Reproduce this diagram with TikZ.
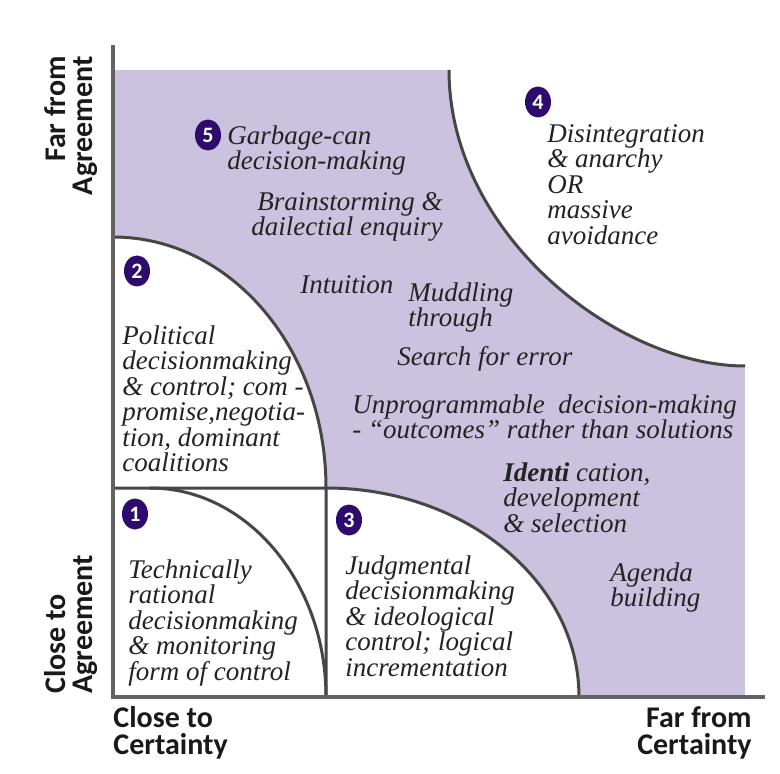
\documentclass[tikz,border=0pt]{standalone}
\usepackage{fontspec}
\setmainfont{Liberation Serif}
\newfontfamily\axisfont{Carlito}
\usepackage{tikz}
\usetikzlibrary{shapes.geometric}

\definecolor{lilac}{RGB}{203,194,223}
\definecolor{badgeblue}{RGB}{45,12,110}
\definecolor{rimgray}{RGB}{70,70,70}
\definecolor{inkgray}{RGB}{35,35,35}

\tikzset{
  zone/.style={draw=rimgray, line width=1.5pt},
  axisline/.style={draw=rimgray!85, line width=2pt},
  badge/.style={ellipse, fill=badgeblue, text=white, inner sep=0pt, minimum width=13pt, minimum height=15.5pt, font=\axisfont\bfseries\fontsize{11}{11}\selectfont},
  idea/.style={align=left, inner sep=0pt, anchor=north west, text=inkgray, font=\fontsize{13.5}{12.75}\selectfont\itshape},
  axislabel/.style={align=left, inner sep=0pt, text=black!90, font=\axisfont\bfseries\fontsize{15}{13.5}\selectfont}
}

\begin{document}
\begin{tikzpicture}[x=0.5pt, y=-0.5pt]
   \useasboundingbox (0,0) rectangle (780,774);
   \coordinate (origin) at (113,697);
   \coordinate (top) at (113,45);
   \coordinate (right) at (765,697);

   \fill[lilac] (113,70) rectangle (745,697);
   \fill[white] (449,70) .. controls (449,235) and (618,366) .. (745,366) -- (745,70) -- cycle;
   \fill[white] (113,237) .. controls (231,237) and (326,349) .. (326,488) -- (113,488) -- cycle;
   \fill[white] (113,488) rectangle (326,697);
   \fill[white] (326,488) .. controls (466,488) and (579,582) .. (579,697) -- (326,697) -- cycle;

   \draw[zone] (449,70) .. controls (449,235) and (618,366) .. (745,366);
   \draw[zone] (113,237) .. controls (231,237) and (326,349) .. (326,488) -- (326,697);
   \draw[zone] (113,488) -- (326,488) .. controls (466,488) and (579,582) .. (579,697);
   \draw[zone] (150,488) .. controls (247,488) and (326,582) .. (326,697);
   \draw[axisline] (top) -- ([yshift=-1pt]origin);
   \draw[axisline] ([xshift=-1pt]origin) -- (right);

   \node[badge] (one) at (135,514) {1};
   \node[badge] (two) at (137,271) {2};
   \node[badge] (three) at (349,520) {3};
   \node[badge] (four) at (538,102) {4};
   \node[badge] (five) at (208,135) {5};

   \node[idea] (garbage) at (227,125) {Garbage-can\\decision-making};
   \node[idea, align=right, anchor=north east] (brain) at (443,192) {Brainstorming \&\\dailectial enquiry};
   \node[idea] (political) at (122,325) {Political\\decisionmaking\\\& control; com -\\promise,negotia-\\tion, dominant\\coalitions};
   \node[idea] (anarchy) at (547,124) {Disintegration\\\& anarchy\\OR\\massive\\avoidance};
   \node[idea] (intuition) at (300,275) {Intuition};
   \node[idea] (muddling) at (408,282) {Muddling\\through};
   \node[idea] (search) at (397,346) {Search for error};
   \node[idea] (unprog) at (352,394) {Unprogrammable\ \ decision-making\\- ``outcomes'' rather than solutions};
   \node[idea] (identi) at (503,462) {\textbf{Identi} cation,\\development\\\& selection};
   \node[idea] (judgment) at (345,555) {Judgmental\\decisionmaking\\\& ideological\\control; logical\\incrementation};
   \node[idea] (agenda) at (610,562) {Agenda\\building};
   \node[idea] (technical) at (128,559) {Technically\\rational\\decisionmaking\\\& monitoring\\form of control};

   \node[axislabel, anchor=north west] (closecert) at (113,706) {Close to\\Certainty};
   \node[axislabel, anchor=north east, align=right] (farcert) at (752,706) {Far from\\Certainty};
   \node[axislabel, rotate=90, anchor=north east, align=right] (faragree) at (44,56) {Far from\\Agreement};
   \node[axislabel, rotate=90, anchor=north west] (closeagree) at (44,694) {Close to\\Agreement};
\end{tikzpicture}
\end{document}
